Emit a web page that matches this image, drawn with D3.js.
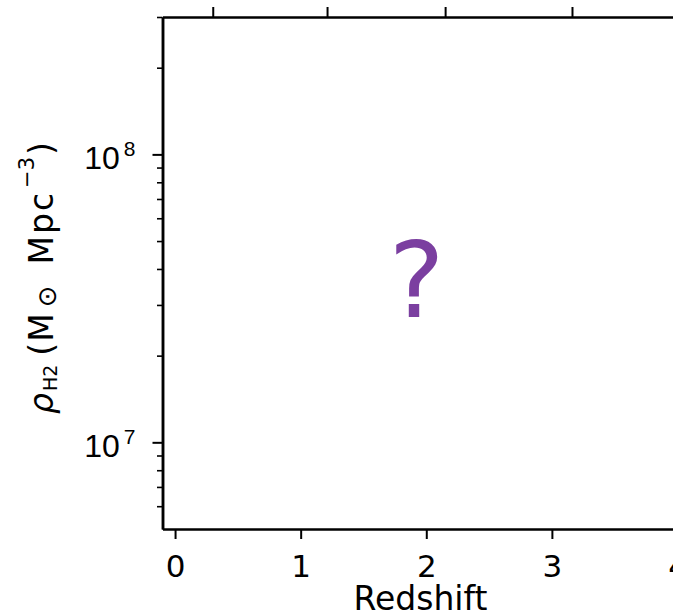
<!DOCTYPE html>
<html>
<head>
<meta charset="utf-8">
<script src="https://cdn.jsdelivr.net/npm/d3@7"></script>
<style>
  body { margin: 0; background: #fff; }
  svg { display: block; font-family: "DejaVu Sans", sans-serif; }
</style>
</head>
<body>
<div id="chart"></div>
<script>
// Axis limits and ticks
const xDomain = [-0.1, 4.0];
const yDomain = [5e6, 3e8];
const xTicks = [0, 1, 2, 3, 4];
const yMajorTicks = [1e7, 1e8];
const yMinorTicks = [6e6, 7e6, 8e6, 9e6, 2e7, 3e7, 4e7, 5e7, 6e7, 7e7, 8e7, 9e7, 2e8, 3e8];
// top axis: unlabelled ticks (cosmic age 10, 5, 3, 2 Gyr) at these redshifts
const topTickZ = [0.30, 1.21, 2.15, 3.16];

const width = 673;
const height = 614;
const margin = { top: 17, left: 162.5 };

const svg = d3.select('#chart').append('svg')
  .attr('width', width)
  .attr('height', height);

const x = d3.scaleLinear().domain(xDomain).range([margin.left, 677.5]);
const y = d3.scaleLog().domain(yDomain).range([529, margin.top]);

const styleAxis = (g) => {
  g.select('.domain').attr('stroke', '#000').attr('stroke-width', 2.5);
  g.selectAll('.tick line').attr('stroke', '#000').attr('stroke-width', 2);
};

// Bottom axis
const xAxis = svg.append('g')
  .attr('transform', `translate(0,${y.range()[0]})`)
  .call(d3.axisBottom(x).tickValues(xTicks).tickFormat(d3.format('d'))
    .tickSize(10).tickSizeOuter(0))
  .call(styleAxis);
xAxis.selectAll('text')
  .attr('y', 48)
  .attr('dy', null)
  .attr('font-size', 31)
  .attr('font-family', 'DejaVu Sans')
  .attr('fill', '#000');

// Top axis
svg.append('g')
  .attr('transform', `translate(0,${margin.top})`)
  .call(d3.axisTop(x).tickValues(topTickZ).tickFormat('')
    .tickSize(10).tickSizeOuter(0))
  .call(styleAxis);

// Left axis, minor ticks first
svg.append('g')
  .attr('transform', `translate(${margin.left},0)`)
  .call(d3.axisLeft(y).tickValues(yMinorTicks).tickFormat('').tickSize(5.5).tickSizeOuter(0))
  .call(styleAxis)
  .selectAll('.tick line').attr('stroke-width', 1.6);

const yAxis = svg.append('g')
  .attr('transform', `translate(${margin.left},0)`)
  .call(d3.axisLeft(y).tickValues(yMajorTicks).tickFormat('').tickSize(10).tickSizeOuter(0))
  .call(styleAxis);

yAxis.selectAll('.tick').each(function(d) {
  const t = d3.select(this).append('text')
    .attr('x', -27)
    .attr('y', 14)
    .attr('text-anchor', 'end')
    .attr('font-size', 32)
    .attr('fill', '#000');
  t.append('tspan').text('10');
  t.append('tspan')
    .attr('font-size', 21)
    .attr('dx', 4)
    .attr('dy', -13)
    .text(Math.round(Math.log10(d)));
});

// Axis titles
svg.append('text')
  .attr('x', 420.5)
  .attr('y', 610)
  .attr('text-anchor', 'middle')
  .attr('font-size', 33)
  .attr('fill', '#000')
  .text('Redshift');

// rho_H2 (M_sun Mpc^-3), written bottom-to-top
const yLabel = svg.append('text')
  .attr('transform', 'translate(53,414) rotate(-90)')
  .attr('text-anchor', 'start')
  .attr('font-size', 33)
  .attr('fill', '#000');
yLabel.append('tspan').attr('font-style', 'italic').text('ρ');
yLabel.append('tspan').attr('font-size', 19).attr('dx', 2).attr('dy', 4).text('H2');
yLabel.append('tspan').attr('dx', 9).attr('dy', -4).text('(');
yLabel.append('tspan').attr('dx', 1).text('M');
yLabel.append('tspan').attr('font-size', 26).attr('dx', 6).attr('dy', 3).text('⊙');
yLabel.append('tspan').attr('dx', 21).attr('dy', -3).attr('letter-spacing', 2).text('Mpc');
yLabel.append('tspan').attr('font-size', 21).attr('dx', 3).attr('dy', -19).text('−3');
yLabel.append('tspan').attr('dx', 2).attr('dy', 19).text(')');

// Placeholder mark in the middle of the panel
svg.append('text')
  .attr('x', 416.5)
  .attr('y', 317)
  .attr('text-anchor', 'middle')
  .attr('font-size', 105)
  .attr('fill', '#7b3fa0')
  .text('?');
</script>
</body>
</html>
